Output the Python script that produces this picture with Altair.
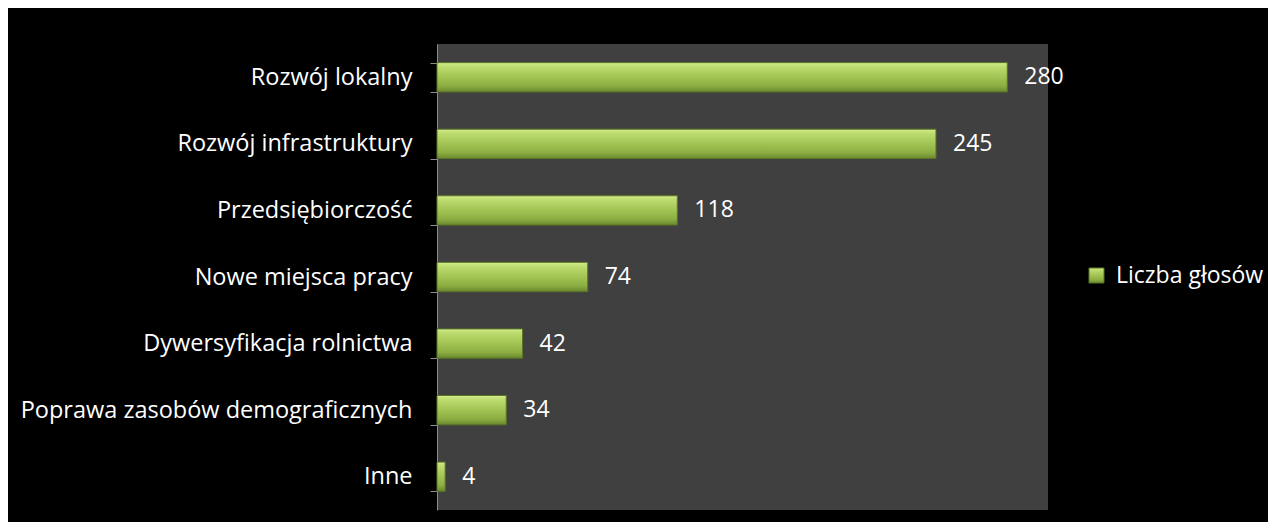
import altair as alt
import pandas as pd

categories = [
    "Rozwój lokalny",
    "Rozwój infrastruktury",
    "Przedsiębiorczość",
    "Nowe miejsca pracy",
    "Dywersyfikacja rolnictwa",
    "Poprawa zasobów demograficznych",
    "Inne",
]
values = [280, 245, 118, 74, 42, 34, 4]
series_name = "Liczba głosów"

df = pd.DataFrame({"cat": categories, "val": values, "series": [series_name] * len(categories)})

FONT = "Open Sans"

bar_gradient = alt.LinearGradient(
    gradient="linear",
    x1=0, x2=0, y1=0, y2=1,
    stops=[
        alt.GradientStop(offset=0.0, color="#d6ef90"),
        alt.GradientStop(offset=0.12, color="#bfdd72"),
        alt.GradientStop(offset=0.45, color="#a5c756"),
        alt.GradientStop(offset=0.8, color="#8cad42"),
        alt.GradientStop(offset=1.0, color="#6a872d"),
    ],
)

base = alt.Chart(df).encode(
    y=alt.Y(
        "cat:N",
        sort=categories,
        title=None,
        scale=alt.Scale(paddingInner=0.56, paddingOuter=0.28),
        axis=alt.Axis(
            tickBand="extent",
            domainColor="#8c8c8c",
            tickColor="#8c8c8c",
            tickSize=7,
            labelColor="white",
            labelFont=FONT,
            labelFontSize=23.5,
            labelPadding=18,
            labelLimit=0,
            grid=False,
        ),
    ),
    x=alt.X("val:Q", scale=alt.Scale(domain=[0, 300]), axis=None),
)

bars = base.mark_bar(fill=bar_gradient, strokeWidth=1).encode(
    stroke=alt.Stroke(
        "series:N",
        scale=alt.Scale(range=["#5a7526"]),
        legend=alt.Legend(
            title=None,
            orient="none",
            legendX=648,
            legendY=220,
            symbolType="square",
            symbolSize=225,
            symbolFillColor="#9bbb59",
            symbolStrokeWidth=1,
            labelColor="white",
            labelFont=FONT,
            labelFontSize=23,
            labelOffset=8,
            labelLimit=0,
        ),
    )
)

labels = base.mark_text(
    align="left", baseline="middle", dx=17, color="white", font=FONT, fontSize=23
).encode(text="val:Q")

chart = (
    (bars + labels)
    .properties(
        width=611,
        height=466,
        background="black",
        padding={"left": 429, "top": 36, "right": 220, "bottom": 12},
        autosize=alt.AutoSizeParams(type="none"),
    )
    .configure_view(fill="#404040", stroke=None)
)

chart.save("out.html", embed_options={"renderer": "svg", "actions": False})
